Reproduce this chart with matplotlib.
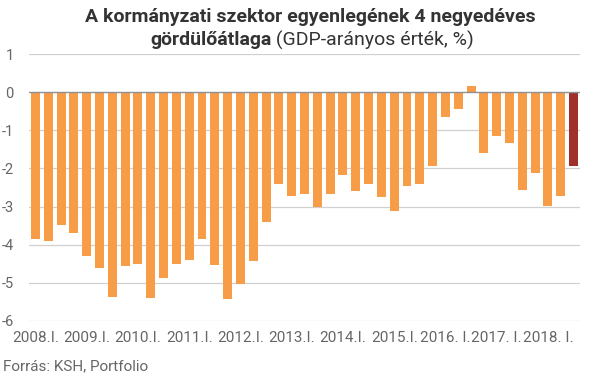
import matplotlib
matplotlib.use("Agg")
import matplotlib.pyplot as plt
import numpy as np

years = list(range(2008, 2019))
quarters = ["I.", "II.", "III.", "IV."]
categories = [f"{y}.{q}" for y in years for q in quarters][:43]
values = [-3.86, -3.90, -3.48, -3.68,
          -4.29, -4.61, -5.37, -4.56,
          -4.50, -5.39, -4.87, -4.50,
          -4.40, -3.86, -4.53, -5.42,
          -5.03, -4.43, -3.41, -2.41,
          -2.73, -2.68, -3.01, -2.66,
          -2.18, -2.60, -2.40, -2.75,
          -3.12, -2.47, -2.40, -1.93,
          -0.66, -0.43, 0.17, -1.60,
          -1.16, -1.34, -2.57, -2.13,
          -2.99, -2.73, -1.94]
tick_labels = ["2008.I.", "2009.I.", "2010.I.", "2011.I.", "2012.I.", "2013.I.",
               "2014.I.", "2015.I.", "2016. I.", "2017. I.", "2018. I."]
yticks = [1, 0, -1, -2, -3, -4, -5, -6]

orange = "#F79C47"
darkred = "#A0302A"
textc = "#666666"

plt.rcParams['font.family'] = ['Roboto', 'DejaVu Sans']

fig = plt.figure(figsize=(6.05, 3.78), dpi=100)
ax = fig.add_axes([29/605, 1-321/378, (580-29)/605, (321-54)/378])

x = np.arange(len(values))
colors = [orange] * (len(values) - 1) + [darkred]
for yv in yticks:
    if yv != 0:
        ax.axhline(yv, color="#d0d0d0", lw=0.9, zorder=0)
ax.bar(x, values, width=0.7, color=colors, zorder=2)
ax.axhline(0, color="#909090", lw=1.0, zorder=3)

ax.set_xlim(-0.5, len(values) - 0.5)
ax.set_ylim(-6, 1)
ax.set_yticks(yticks)
ax.set_yticklabels([str(v) for v in yticks])
ax.set_xticks(x[::4])
ax.set_xticklabels(tick_labels)
ax.tick_params(axis='both', length=0, labelsize=11, colors=textc)
ax.tick_params(axis='y', pad=11, labelsize=10.5)
ax.tick_params(axis='x', pad=7)
for s in ax.spines.values():
    s.set_visible(False)

fig.text(310/605, 1-17/378, "A kormányzati szektor egyenlegének 4 negyedéves",
         ha='center', va='center', fontsize=14, fontweight='bold', color="#333333")

fig.canvas.draw()
r = fig.canvas.get_renderer()
t1 = fig.text(0, 1-40/378, "gördülőátlaga", ha='left', va='center', fontsize=14,
              fontweight='bold', color="#333333")
t2 = fig.text(0, 1-40/378, " (GDP-arányos érték, %)", ha='left', va='center', fontsize=14,
              color="#333333")
w1 = t1.get_window_extent(r).width
w2 = t2.get_window_extent(r).width
start = 312 - (w1 + w2) / 2
t1.set_x(start / 605)
t2.set_x((start + w1) / 605)

fig.text(3/605, 1-366/378, "Forrás: KSH, Portfolio", ha='left', va='center',
         fontsize=11, color=textc)

fig.savefig("out.png", dpi=100)
